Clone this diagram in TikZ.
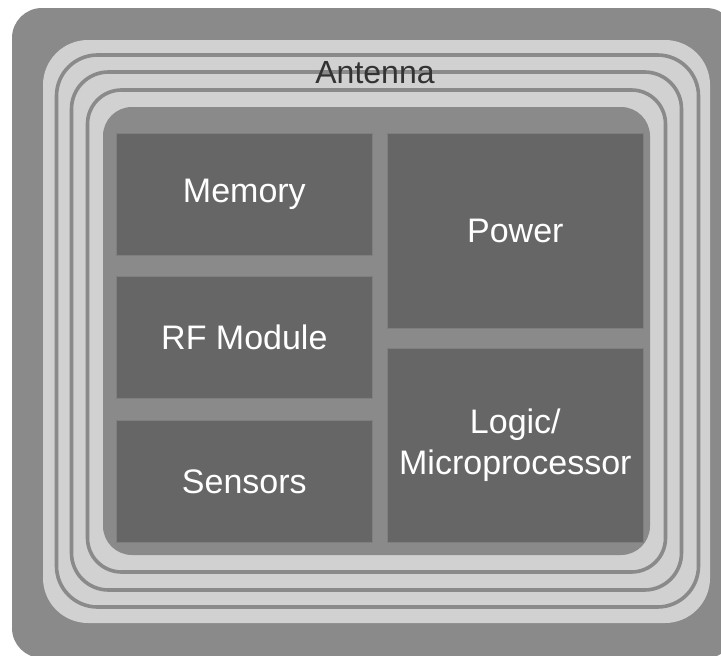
\documentclass[tikz,border=0pt]{standalone}
\usepackage{fontspec}
\setmainfont{Liberation Sans}
\usetikzlibrary{positioning}
\definecolor{TagGray}{HTML}{8A8A8A}
\definecolor{CoilLight}{HTML}{D1D1D1}
\definecolor{ChipDark}{HTML}{666666}
\definecolor{LabelDark}{HTML}{333333}
\tikzset{
  block/.style={draw=TagGray!70!ChipDark,line width=0.7pt,fill=ChipDark,text=white,
    inner sep=0pt,anchor=north west,align=center,minimum width=256pt,
    font=\fontsize{34}{41}\selectfont},
  coil/.style={draw=TagGray,line width=3.6pt},
}

\begin{document}
\begin{tikzpicture}[x=1pt,y=-1pt]
  \useasboundingbox (0,0) rectangle (721,656);
  \clip (0,0) rectangle (721,656);
  \fill[white] (0,0) rectangle (721,656);
  % tag body and antenna coil
  \fill[TagGray,rounded corners=30pt] (12,8) rectangle (736,658);
  \fill[CoilLight,rounded corners=45pt] (43,40) rectangle (710,623);
  \draw[coil,rounded corners=41pt] (56.5,55) rectangle (698.5,607);
  \draw[coil,rounded corners=37pt] (71.5,72) rectangle (681.5,590);
  \draw[coil,rounded corners=34pt] (87.5,90) rectangle (665.5,572);
  \fill[TagGray,rounded corners=29pt] (103,107) rectangle (650,555);
  \node[anchor=base,text=LabelDark,font=\fontsize{32}{38}\selectfont] (antenna) at (375,83) {Antenna};
  % chip blocks
  \node[block,minimum height=122pt] (memory) at (116,133) {Memory};
  \node[block,minimum height=122pt] (rf) at (116,276) {RF Module};
  \node[block,minimum height=122pt] (sensors) at (116,420) {Sensors};
  \node[block,minimum height=195pt] (power) at (387,133) {Power};
  \node[block,minimum height=194pt] (logic) at (387,348) {Logic/\\Microprocessor};
\end{tikzpicture}
\end{document}
